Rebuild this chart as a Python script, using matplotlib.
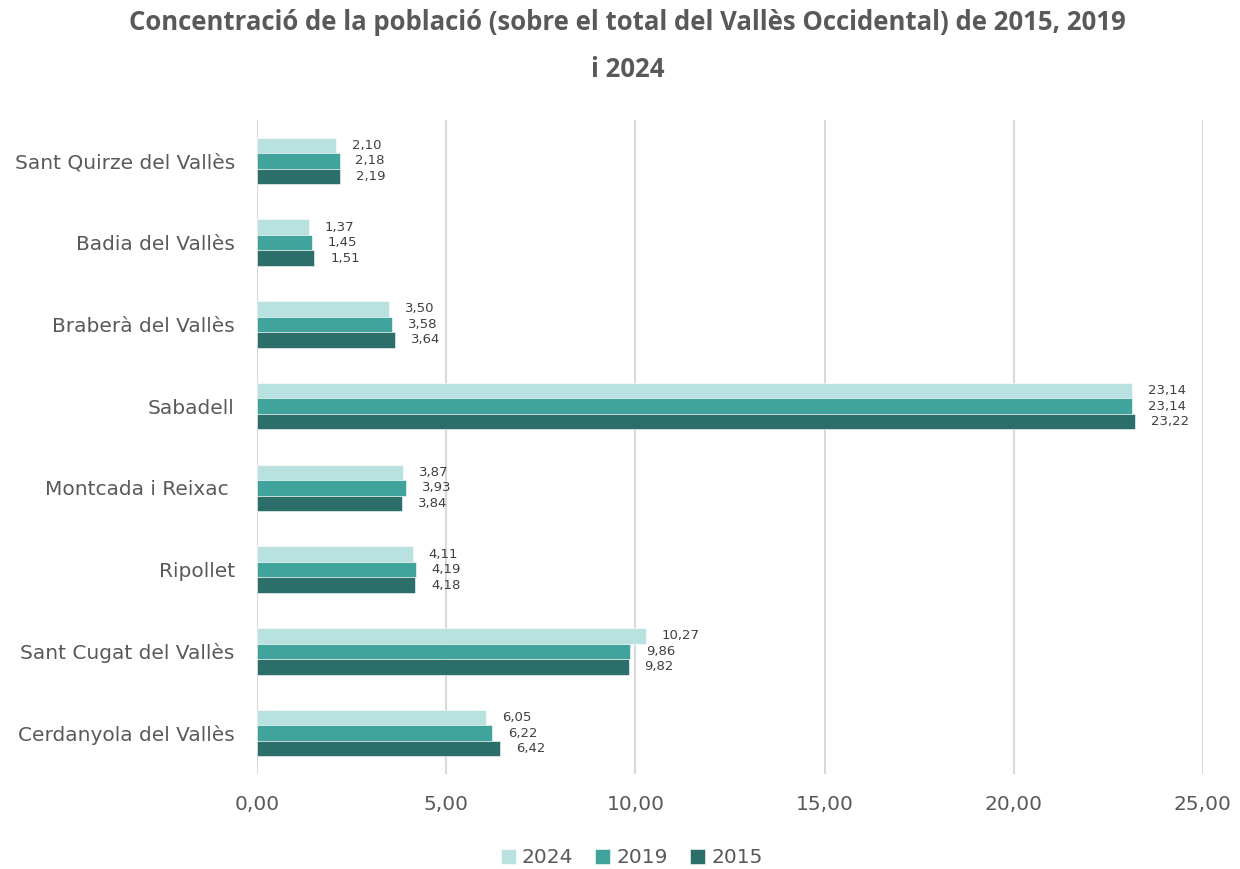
import matplotlib.pyplot as plt
import numpy as np

plt.rcParams['font.family'] = ['DejaVu Sans']

municipis = ['Sant Quirze del Vallès', 'Badia del Vallès', 'Braberà del Vallès', 'Sabadell',
             'Montcada i Reixac ', 'Ripollet', 'Sant Cugat del Vallès', 'Cerdanyola del Vallès']
v2024 = [2.10, 1.37, 3.50, 23.14, 3.87, 4.11, 10.27, 6.05]
v2019 = [2.18, 1.45, 3.58, 23.14, 3.93, 4.19, 9.86, 6.22]
v2015 = [2.19, 1.51, 3.64, 23.22, 3.84, 4.18, 9.82, 6.42]
anys = ['2024', '2019', '2015']
colors = ['#B8E1DF', '#40A39C', '#2C6F6A']
xticks = [0, 5, 10, 15, 20, 25]

grey = '#595959'

fig = plt.figure(figsize=(12.4, 8.69), dpi=100)
ax = fig.add_axes([0.2073, 0.1093, 0.7627, 0.7526])

y = np.arange(len(municipis))
h = 0.19
series = [v2024, v2019, v2015]
for i, (vals, c, lab) in enumerate(zip(series, colors, anys)):
    pos = y + (i - 1) * h
    ax.barh(pos, vals, height=h, color=c, edgecolor='white', linewidth=0.4, label=lab, zorder=3)
    for p, v in zip(pos, vals):
        ax.annotate(f'{v:.2f}'.replace('.', ','), (v, p), xytext=(11.5, 0),
                    textcoords='offset points', va='center', ha='left',
                    fontsize=9.5, color='#404040')

ax.set_ylim(len(municipis) - 0.5, -0.5)
ax.set_xlim(0, 25)
ax.set_xticks(xticks)
ax.set_xticklabels([f'{t:.2f}'.replace('.', ',') for t in xticks], fontsize=14.5, color=grey)
ax.set_yticks(y)
ax.set_yticklabels(municipis, fontsize=14.5, color=grey)
ax.tick_params(axis='both', length=0)
ax.tick_params(axis='y', pad=16)
ax.tick_params(axis='x', pad=15)
for s in ax.spines.values():
    s.set_visible(False)
ax.grid(axis='x', color='#D9D9D9', linewidth=1.5, zorder=0)
ax.set_axisbelow(True)

fig.suptitle('Concentració de la població (sobre el total del Vallès Occidental) de 2015, 2019\ni 2024',
             x=0.506, y=0.99, fontsize=18.5, fontweight='bold', color=grey, linespacing=1.95,
             va='top', family=['Open Sans', 'DejaVu Sans'])

ax.legend(loc='center', bbox_to_anchor=(0.396, -0.128), ncol=3, frameon=False, fontsize=14.5,
          handlelength=0.75, handleheight=0.75, handletextpad=0.3, columnspacing=1.1,
          labelcolor=grey)

fig.savefig('out.png', dpi=100)
